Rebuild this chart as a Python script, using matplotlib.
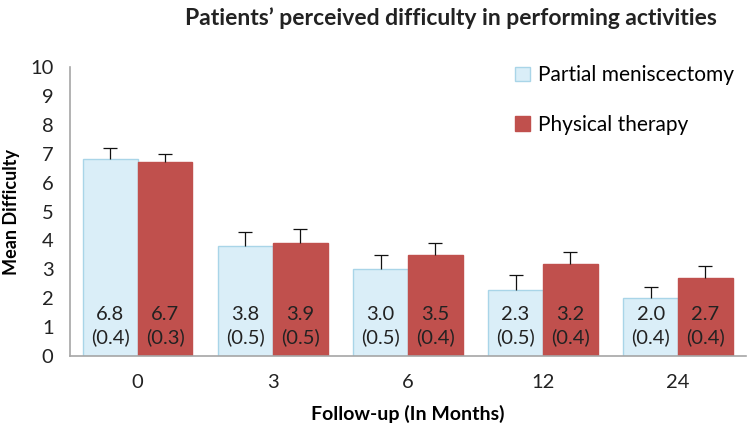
import matplotlib.pyplot as plt
import numpy as np

plt.rcParams['font.family'] = ['Lato', 'DejaVu Sans']

months = ['0', '3', '6', '12', '24']
menisc = [6.8, 3.8, 3.0, 2.3, 2.0]
menisc_se = [0.4, 0.5, 0.5, 0.5, 0.4]
physio = [6.7, 3.9, 3.5, 3.2, 2.7]
physio_se = [0.3, 0.5, 0.4, 0.4, 0.4]

light = '#DAEEF8'
light_edge = '#A9D5E8'
red = '#C0504D'

fig = plt.figure(figsize=(7.47, 4.26), dpi=100)
ax = fig.add_axes([0.094, 0.164, 0.904, 0.679])

x = np.arange(len(months))
w = 0.405
ax.bar(x - w / 2, menisc, w, color=light, edgecolor=light_edge, linewidth=1,
       label='Partial meniscectomy', zorder=2)
ax.bar(x + w / 2, physio, w, color=red, edgecolor=red, linewidth=1,
       label='Physical therapy', zorder=2)
# plus-only error bars like the original, hide the lower cap
for xs, vals, ses in [(x - w / 2, menisc, menisc_se), (x + w / 2, physio, physio_se)]:
    eb = ax.errorbar(xs, vals, yerr=[np.zeros(len(vals)), ses], fmt='none',
                     ecolor='#111111', elinewidth=0.9, capsize=5, capthick=0.9,
                     zorder=3)
    eb[1][0].set_visible(False)

for xs, vals, ses in [(x - w / 2, menisc, menisc_se), (x + w / 2, physio, physio_se)]:
    for xi, v, s in zip(xs, vals, ses):
        ax.text(xi, 1.04, '%.1f\n(%.1f)' % (v, s), ha='center', va='center',
                fontsize=14.5, color='#222222', linespacing=1.3, zorder=4)

ax.set_xlim(-0.5, 4.5)
ax.set_ylim(0, 10)
ax.set_yticks(range(11))
ax.set_xticks(x)
ax.set_xticklabels(months)
ax.tick_params(length=0, labelsize=14.5, colors='#222222')
ax.tick_params(axis='x', pad=13)
ax.tick_params(axis='y', pad=12)
for s in ['top', 'right']:
    ax.spines[s].set_visible(False)
for s in ['left', 'bottom']:
    ax.spines[s].set_color('#A6A6A6')
    ax.spines[s].set_linewidth(1.2)

ax.set_xlabel('Follow-up (In Months)', fontsize=14, fontweight='bold', labelpad=10)
ax.set_ylabel('Mean Difficulty', fontsize=13, fontweight='bold', labelpad=7)
fig.text(0.604, 0.957, 'Patients\u2019 perceived difficulty in performing activities',
         ha='center', va='center', fontsize=16.5, fontweight='bold', color='#222222')

ax.legend(loc='upper left', bbox_to_anchor=(0.631, 1.07), frameon=False,
          fontsize=15, labelspacing=1.4, handlelength=0.7, handleheight=0.7,
          handletextpad=0.4)

fig.savefig('out.png', dpi=100)
